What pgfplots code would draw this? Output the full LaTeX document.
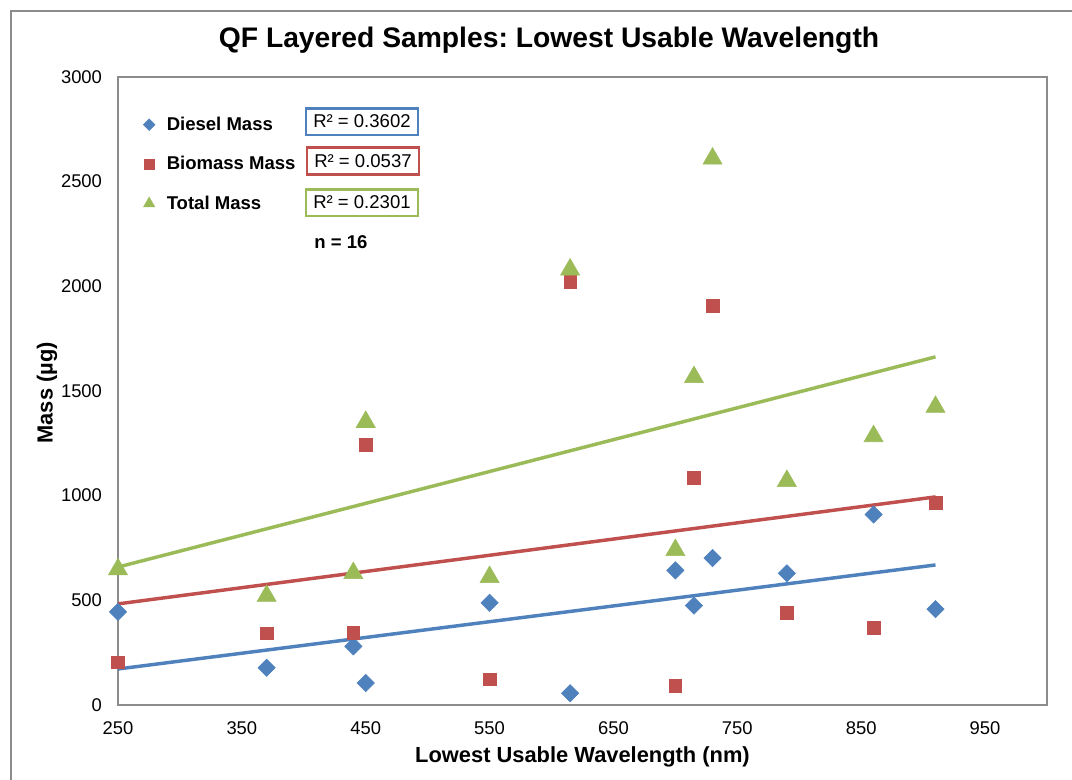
\documentclass[border=0pt]{standalone}
\usepackage{pgfplots}
\pgfplotsset{compat=1.18}
\usepackage{fontspec}
\setmainfont{Liberation Sans}
\frenchspacing
\definecolor{dblue}{HTML}{4F81BD}
\definecolor{dred}{HTML}{C0504D}
\definecolor{dgreen}{HTML}{9BBB59}
\definecolor{frame}{HTML}{8C8C8C}
\pgfplotstableread{
x y
250 445
370 178
440 280
450 105
550 488
615 56
700 643
715 475
730 702
790 629
860 910
910 458
}\diesel
\pgfplotstableread{
x y
250 203
370 343
440 346
450 1243
550 123
615 2022
700 93
715 1086
730 1906
790 440
860 368
910 966
}\biomass
\pgfplotstableread{
x y
250 648
370 521
440 630
450 1352
550 611
615 2080
700 740
715 1566
730 2610
790 1070
860 1284
910 1424
}\total
\begin{document}
\begin{tikzpicture}
\path[use as bounding box] (-88.5pt,-56.25pt) rectangle (715.5pt,528.75pt);
\draw[frame, line width=1.1pt] (-80.25pt,-60pt) -- (-80.25pt,520.5pt) -- (720pt,520.5pt);
\begin{axis}[
  at={(0pt,0pt)}, anchor=south west,
  scale only axis, width=696.75pt, height=471pt,
  xmin=250, xmax=1000, ymin=0, ymax=3000,
  xtick={250,350,...,950}, ytick={0,500,...,3000},
  major tick length=0pt,
  axis line style={frame, line width=1.1pt},
  clip=false,
  /pgf/number format/assume math mode=true,
  /pgf/number format/1000 sep={},
  tick label style={font=\fontsize{13.8}{16}\selectfont},
  xticklabel style={yshift=-9pt},
  yticklabel style={xshift=-8.5pt},
  xlabel={Lowest Usable Wavelength (nm)},
  ylabel={Mass (µg)},
  xlabel style={at={(axis description cs:0.5,-0.083)}, anchor=center, font=\fontsize{16.4}{19}\selectfont\bfseries},
  ylabel style={at={(axis description cs:-0.0765,0.497)}, anchor=center, rotate=0, font=\fontsize{16.4}{19}\selectfont\bfseries},
  legend style={at={(0.027,0.941)}, anchor=north west, draw=none, fill=none,
    font=\fontsize{13.9}{16}\selectfont\bfseries, row sep=14pt, inner sep=0pt,
    nodes={inner sep=2pt}},
  legend cell align=left,
  legend image code/.code={\draw[#1] plot coordinates {(4pt,0pt)}; \path (0pt,0pt) (15pt,0pt);},
]
\addplot[forget plot, dgreen, line width=2.6pt] coordinates {(250,659) (910,1663)};
\addplot[forget plot, dred, line width=2.6pt] coordinates {(250,483) (910,994)};
\addplot[forget plot, dblue, line width=2.6pt] coordinates {(250,172) (910,669)};
\addplot[only marks, mark=square*, mark size=4.6pt, mark options={rotate=45, fill=dblue, draw=dblue},
  legend image post style={mark size=3.1pt}] table {\diesel};
\addlegendentry{Diesel Mass}
\addplot[only marks, mark=square*, mark size=4.7pt, mark options={fill=dred, draw=dred},
  legend image post style={mark size=4pt}] table {\biomass};
\addlegendentry{Biomass Mass}
\addplot[only marks, mark=triangle*, mark size=8.3pt, mark options={fill=dgreen, draw=dgreen},
  legend image post style={mark size=4.8pt}] table {\total};
\addlegendentry{Total Mass}
\node[font=\fontsize{21.2}{24}\selectfont\bfseries] at (rel axis cs:0.464,1.059) {QF Layered Samples: Lowest Usable Wavelength};
\node[draw=dblue, line width=2pt, fill=white, minimum width=84pt, minimum height=20pt, inner sep=1pt, font=\fontsize{13.9}{16}\selectfont] at (rel axis cs:0.2626,0.929) {R² = 0.3602};
\node[draw=dred, line width=2pt, fill=white, minimum width=84pt, minimum height=20pt, inner sep=1pt, font=\fontsize{13.9}{16}\selectfont] at (rel axis cs:0.2637,0.866) {R² = 0.0537};
\node[draw=dgreen, line width=2pt, fill=white, minimum width=84pt, minimum height=20pt, inner sep=1pt, font=\fontsize{13.9}{16}\selectfont] at (rel axis cs:0.2626,0.800) {R² = 0.2301};
\node[font=\fontsize{13.9}{16}\selectfont\bfseries] at (rel axis cs:0.240,0.737) {n = 16};
\end{axis}
\end{tikzpicture}
\end{document}
